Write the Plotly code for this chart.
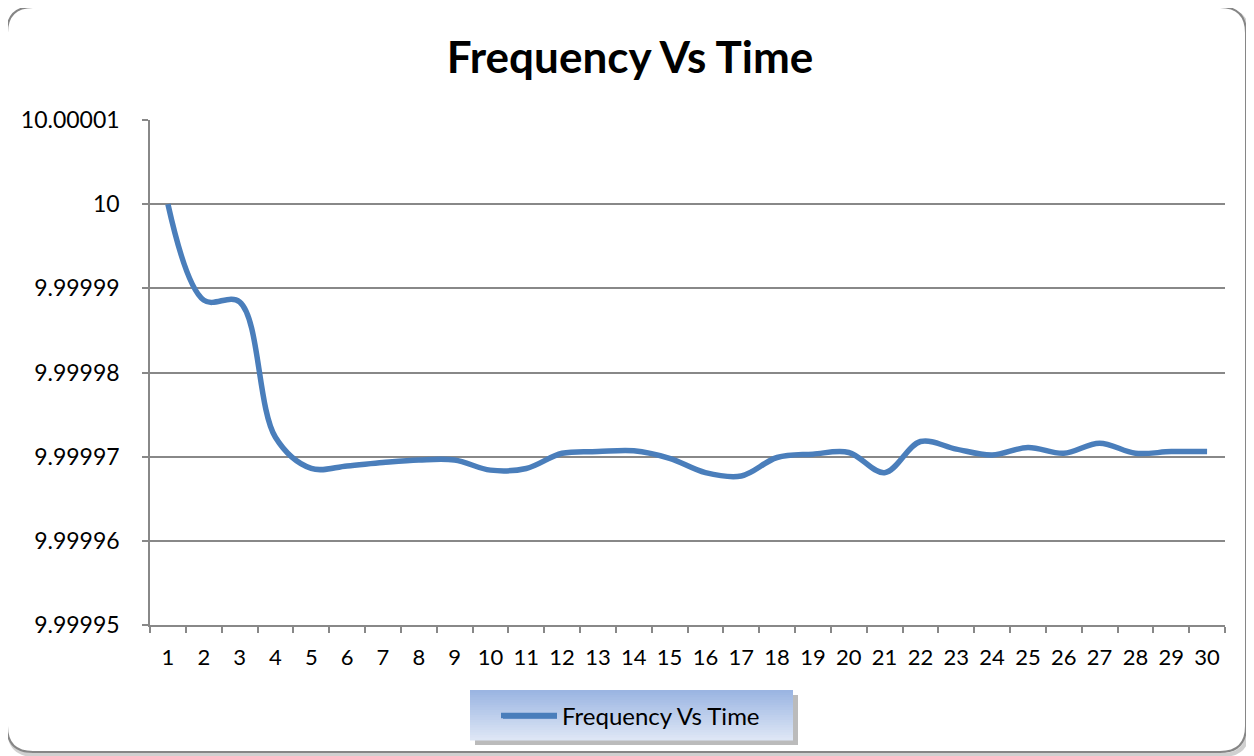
import plotly.graph_objects as go

# ---- data ----
time_points = list(range(1, 31))
frequency = [
    10.0000000, 9.9999886, 9.9999884, 9.9999723, 9.9999686, 9.9999689,
    9.9999693, 9.9999696, 9.9999696, 9.9999684, 9.9999686, 9.9999704,
    9.9999706, 9.9999707, 9.9999698, 9.9999681, 9.9999677, 9.9999699,
    9.9999703, 9.9999705, 9.9999681, 9.9999718, 9.9999709, 9.9999702,
    9.9999711, 9.9999704, 9.9999716, 9.9999704, 9.9999706, 9.9999706,
]
y_tick_vals = [9.99995, 9.99996, 9.99997, 9.99998, 9.99999, 10.0, 10.00001]
y_tick_text = ["9.99995", "9.99996", "9.99997", "9.99998", "9.99999", "10", "10.00001"]
series_name = "Frequency Vs Time"
title_text = "Frequency Vs Time"

OFF = 8  # page body margin
W, H = 1254 - OFF, 756 - OFF
# plot area in reference (page) pixels
L, R, T, B = 150, 1225, 120, 625


def px(x):
    return ((x - OFF) - (L - OFF)) / (R - L)


def py(y):
    return (B - y) / (B - T)


FONT = "Lato, Carlito, Calibri, sans-serif"
LINE_COLOR = "#4a7ebb"
GRID = "#888888"

fig = go.Figure()
fig.add_trace(go.Scatter(
    x=[str(t) for t in time_points], y=frequency, mode="lines",
    name=series_name,
    line=dict(color=LINE_COLOR, width=5.5, shape="spline", smoothing=1.0),
))

shapes = []


def rounded_path(x0, y0, x1, y1, r):
    X, Y = px, py
    return (f"M {X(x0 + r)},{Y(y0)} L {X(x1 - r)},{Y(y0)} Q {X(x1)},{Y(y0)} {X(x1)},{Y(y0 + r)} "
            f"L {X(x1)},{Y(y1 - r)} Q {X(x1)},{Y(y1)} {X(x1 - r)},{Y(y1)} "
            f"L {X(x0 + r)},{Y(y1)} Q {X(x0)},{Y(y1)} {X(x0)},{Y(y1 - r)} "
            f"L {X(x0)},{Y(y0 + r)} Q {X(x0)},{Y(y0)} {X(x0 + r)},{Y(y0)} Z")


# outer chart border: soft shadow + border
shapes.append(dict(type="path", xref="paper", yref="paper", layer="below",
                   path=rounded_path(9, 10, 1248, 755, 26),
                   line=dict(color="rgba(150,150,150,0.45)", width=4)))
shapes.append(dict(type="path", xref="paper", yref="paper", layer="below",
                   path=rounded_path(7, 7, 1246, 752, 26),
                   line=dict(color="#868686", width=2), fillcolor="white"))

# legend box: shadow then gradient bands
lx0, ly0, lx1, ly1 = 470, 690, 793, 740
shapes.append(dict(type="rect", xref="paper", yref="paper", layer="below",
                   x0=px(lx0 + 5), x1=px(lx1 + 5), y0=py(ly0 + 5), y1=py(ly1 + 5),
                   fillcolor="rgba(120,120,120,0.5)", line=dict(width=0)))
n = 20
c_top = (155, 181, 226)
c_bot = (221, 230, 245)
for i in range(n):
    f = i / (n - 1)
    c = tuple(int(round(c_top[k] + (c_bot[k] - c_top[k]) * f)) for k in range(3))
    ya = ly0 + (ly1 - ly0) * i / n
    yb = ly0 + (ly1 - ly0) * (i + 1) / n
    shapes.append(dict(type="rect", xref="paper", yref="paper", layer="below",
                       x0=px(lx0), x1=px(lx1), y0=py(yb + 0.5), y1=py(ya),
                       fillcolor=f"rgb{c}", line=dict(width=0)))
# longer legend key line (Excel style)
shapes.append(dict(type="line", xref="paper", yref="paper", layer="above",
                   x0=px(503), x1=px(557), y0=py(716), y1=py(716),
                   line=dict(color=LINE_COLOR, width=5.5)))

fig.update_layout(
    width=W, height=H,
    margin=dict(l=L - OFF, r=W - (R - OFF), t=T - OFF, b=H - (B - OFF), pad=0),
    paper_bgcolor="white", plot_bgcolor="rgba(0,0,0,0)",
    title=dict(text=f"<b>{title_text}</b>", x=px(630), xref="paper", xanchor="center",
               y=1 - (58 - OFF) / H, yanchor="middle",
               font=dict(family=FONT, size=44, color="black")),
    font=dict(family=FONT, size=22, color="black"),
    showlegend=True,
    legend=dict(x=px(496), y=py(716), xanchor="left", yanchor="middle",
                bgcolor="rgba(0,0,0,0)", borderwidth=0,
                font=dict(family=FONT, size=24, color="black"),
                itemwidth=56),
    shapes=shapes,
    xaxis=dict(
        type="category", range=[-0.5, 29.5],
        showgrid=False, showline=True, linecolor=GRID, linewidth=1.5,
        ticks="outside", tickson="boundaries", ticklen=6, tickcolor=GRID, tickwidth=1.5,
        tickfont=dict(family=FONT, size=22, color="black"),
        ticklabelstandoff=12,
        fixedrange=True,
    ),
    yaxis=dict(
        range=[9.99995, 10.00001],
        tickvals=y_tick_vals, ticktext=y_tick_text,
        showgrid=True, gridcolor=GRID, gridwidth=1.5,
        showline=True, linecolor=GRID, linewidth=1.5,
        ticks="outside", ticklen=6, tickcolor=GRID, tickwidth=1.5,
        tickfont=dict(family=FONT, size=23, color="black"),
        ticklabelstandoff=18,
        zeroline=False, fixedrange=True,
    ),
)

fig.write_html("out.html")
